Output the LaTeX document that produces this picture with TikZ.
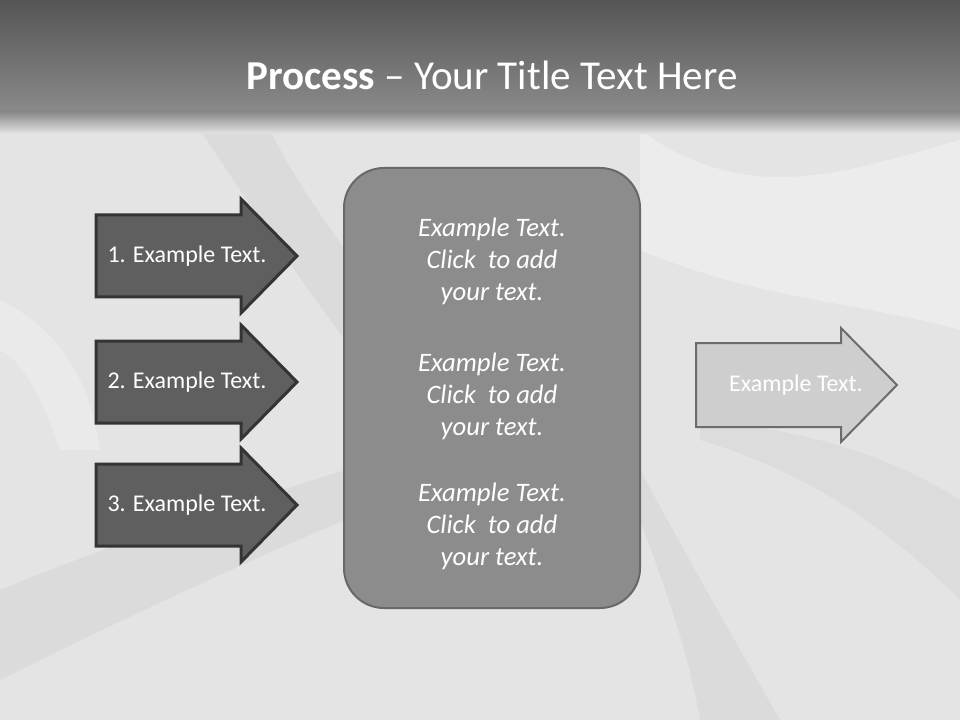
\documentclass[tikz,border=0pt]{standalone}
\usepackage{fontspec}
\setmainfont{Carlito}
\usepackage{xcolor}
\usetikzlibrary{positioning}
\definecolor{slidetop}{RGB}{85, 85, 85}
\definecolor{slideband}{RGB}{138, 138, 138}
\definecolor{slideback}{RGB}{228, 228, 228}
\definecolor{stepfill}{RGB}{95, 95, 95}
\definecolor{stepline}{RGB}{52, 52, 52}
\definecolor{panelfill}{RGB}{140, 140, 140}
\definecolor{panelline}{RGB}{104, 104, 104}
\definecolor{goalfill}{RGB}{206, 206, 206}
\definecolor{goalline}{RGB}{108, 108, 108}

\begin{document}
\begin{tikzpicture}[x=0.75pt, y=-0.75pt,
  steptext/.style={text=white, font=\fontsize{18}{22}\selectfont},
  paneltext/.style={text=white, align=center, font=\fontsize{20}{24}\selectfont\itshape}]
\useasboundingbox (0,0) rectangle (960,720);
% background and swirls
\fill[slideback] (0,0) rectangle (960,720);
\fill[white, opacity=0.3] (640,130) .. controls (750,210) and (850,170) .. (960,140) -- (960,330) .. controls (850,300) and (760,300) .. (640,250) -- cycle;
\fill[black, opacity=0.04] (200,130) .. controls (260,220) and (300,280) .. (345,340) -- (345,250) .. controls (310,200) and (290,170) .. (270,130) -- cycle;
\fill[black, opacity=0.035] (0,590) .. controls (120,540) and (250,500) .. (345,470) -- (345,520) .. controls (250,560) and (120,620) .. (0,680) -- cycle;
\fill[black, opacity=0.04] (640,520) .. controls (670,600) and (690,660) .. (700,720) -- (780,720) .. controls (740,650) and (700,580) .. (640,470) -- cycle;
\fill[white, opacity=0.25] (0,300) .. controls (60,330) and (90,380) .. (100,450) -- (60,450) .. controls (40,390) and (20,360) .. (0,350) -- cycle;
\fill[black, opacity=0.03] (700,440) .. controls (800,470) and (880,520) .. (960,600) -- (960,500) .. controls (880,450) and (800,430) .. (700,420) -- cycle;
% title band
\shade[top color=slidetop, bottom color=slideband] (0,0) rectangle (960,112);
\shade[top color=slideband, bottom color=slideback] (0,112) rectangle (960,134);
\node[text=white, font=\fontsize{30.8}{37}\selectfont] (title) at (492,75) {\textbf{Process} – Your Title Text Here};
% left arrows
\foreach \yc/\num in {256/1, 382/2, 505/3} {
  \draw[stepline, line width=2.25pt, fill=stepfill] (96,\yc-41) -- (241,\yc-41) -- (241,\yc-57) -- (297,\yc) -- (241,\yc+57) -- (241,\yc+41) -- (96,\yc+41) -- cycle;
  \node[steptext] (step\num) at (187,\yc) {\num. Example Text.};
}
% middle panel
\node[draw=panelline, line width=1.5pt, fill=panelfill, rounded corners=30pt, minimum width=222pt, minimum height=330pt] (panel) at (492,388) {};
\node[paneltext] (note1) at (492,261) {Example Text.\\Click~ to add\\your text.};
\node[paneltext] (note2) at (492,396) {Example Text.\\Click~ to add\\your text.};
\node[paneltext] (note3) at (492,526) {Example Text.\\Click~ to add\\your text.};
% right arrow
\draw[goalline, line width=1.5pt, fill=goalfill] (696,343) -- (841,343) -- (841,328) -- (897,385) -- (841,442) -- (841,427) -- (696,427) -- cycle;
\node[steptext] (goal) at (796,385) {Example Text.};
\end{tikzpicture}
\end{document}
